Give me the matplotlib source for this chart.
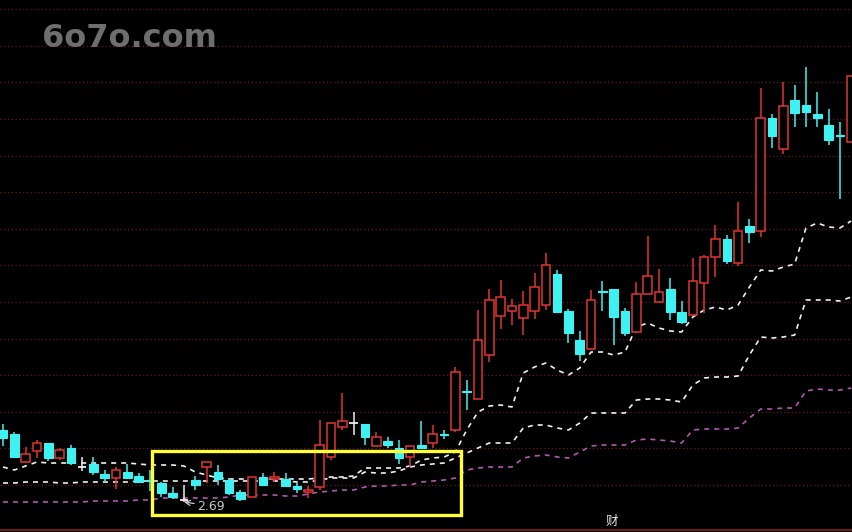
"""
Candlestick chart with three stepped dashed guide lines, dark trading-terminal style.
"""

import matplotlib
matplotlib.use("Agg")
import matplotlib.pyplot as plt
from matplotlib.patches import Rectangle
import numpy as np

# Daily prices (open, high, low, close), one entry per candle
opens = [3.41, 3.37, 3.09, 3.20, 3.28, 3.13, 3.23, 3.04, 3.07, 2.97,
         2.93, 2.99, 2.95, 2.91, 2.88, 2.78, 2.71, 2.91, 3.04, 2.99,
         2.91, 2.79, 2.74, 2.94, 2.92, 2.92, 2.85, 2.79, 2.84, 3.14,
         3.44, 3.48, 3.47, 3.25, 3.30, 3.23, 3.14, 3.26, 3.28, 3.37,
         3.41, 3.80, 3.72, 4.16, 4.55, 4.60, 4.53, 4.60, 4.66, 4.97,
         4.60, 4.31, 4.22, 4.80, 4.82, 4.60, 4.39, 4.77, 4.69, 4.82,
         4.59, 4.56, 4.88, 5.14, 5.32, 5.08, 5.45, 5.40, 6.53, 6.22,
         6.71, 6.66, 6.57, 6.46, 6.36, 6.29]
highs = [3.47, 3.39, 3.24, 3.31, 3.28, 3.23, 3.26, 3.14, 3.14, 3.01,
         3.04, 3.07, 2.98, 3.01, 2.89, 2.84, 2.86, 2.95, 3.09, 3.06,
         2.93, 2.81, 2.94, 2.98, 2.99, 2.98, 2.88, 2.85, 3.51, 3.48,
         3.78, 3.59, 3.47, 3.39, 3.34, 3.31, 3.25, 3.50, 3.46, 3.41,
         4.04, 3.91, 4.61, 4.82, 4.91, 4.72, 4.80, 4.98, 5.18, 5.01,
         4.62, 4.40, 4.81, 4.90, 4.82, 4.63, 4.89, 5.35, 5.02, 4.93,
         4.70, 5.13, 5.16, 5.46, 5.36, 5.69, 5.52, 6.83, 6.57, 6.89,
         6.86, 7.04, 6.79, 6.62, 6.49, 6.95]
lows = [3.25, 3.13, 3.08, 3.13, 3.10, 3.11, 3.06, 3.00, 2.96, 2.89,
        2.82, 2.93, 2.88, 2.80, 2.74, 2.72, 2.69, 2.81, 2.88, 2.86,
        2.76, 2.70, 2.74, 2.85, 2.89, 2.84, 2.78, 2.73, 2.81, 3.11,
        3.41, 3.36, 3.26, 3.25, 3.23, 3.07, 3.04, 3.23, 3.23, 3.32,
        3.39, 3.61, 3.72, 4.09, 4.42, 4.46, 4.36, 4.52, 4.61, 4.58,
        4.28, 4.10, 4.21, 4.60, 4.26, 4.35, 4.38, 4.77, 4.69, 4.51,
        4.47, 4.56, 4.58, 4.94, 5.07, 5.05, 5.28, 5.34, 6.23, 6.17,
        6.44, 6.44, 6.44, 6.26, 5.72, 6.29]
closes = [3.33, 3.14, 3.17, 3.28, 3.13, 3.21, 3.08, 3.04, 2.99, 2.93,
          3.01, 2.93, 2.89, 2.90, 2.78, 2.74, 2.71, 2.86, 3.09, 2.92,
          2.78, 2.72, 2.94, 2.86, 2.94, 2.85, 2.82, 2.81, 3.26, 3.48,
          3.50, 3.48, 3.34, 3.34, 3.26, 3.13, 3.25, 3.23, 3.37, 3.36,
          3.99, 3.79, 4.31, 4.71, 4.74, 4.65, 4.66, 4.84, 5.06, 4.59,
          4.38, 4.17, 4.71, 4.79, 4.54, 4.38, 4.77, 4.95, 4.79, 4.59,
          4.49, 4.90, 5.14, 5.32, 5.10, 5.40, 5.39, 6.53, 6.35, 6.65,
          6.58, 6.59, 6.53, 6.31, 6.35, 6.95]

# Stepped guide lines (upper white, lower white, purple)
line1 = [3.04, 3.01, 3.05, 3.09, 3.08, 3.08, 3.08, 3.08, 3.08, 3.08,
         3.08, 3.08, 3.07, 3.06, 3.06, 3.06, 3.05, 2.99, 2.96, 2.93,
         2.92, 2.92, 2.92, 2.92, 2.92, 2.92, 2.92, 2.92, 2.93, 2.94,
         2.94, 2.95, 3.03, 3.03, 3.03, 3.03, 3.05, 3.11, 3.13, 3.14,
         3.19, 3.41, 3.59, 3.65, 3.66, 3.64, 3.98, 4.04, 4.08, 4.01,
         3.96, 4.03, 4.19, 4.19, 4.16, 4.19, 4.44, 4.48, 4.43, 4.40,
         4.39, 4.54, 4.61, 4.64, 4.61, 4.66, 4.84, 5.01, 5.00, 5.04,
         5.07, 5.43, 5.48, 5.44, 5.43, 5.50]
line2 = [2.88, 2.88, 2.89, 2.89, 2.89, 2.88, 2.88, 2.89, 2.89, 2.89,
         2.89, 2.89, 2.90, 2.90, 2.90, 2.90, 2.90, 2.90, 2.90, 2.90,
         2.90, 2.90, 2.90, 2.90, 2.90, 2.90, 2.89, 2.89, 2.91, 2.93,
         2.93, 2.93, 2.99, 2.98, 2.98, 3.00, 3.04, 3.06, 3.07, 3.08,
         3.13, 3.18, 3.23, 3.28, 3.28, 3.28, 3.43, 3.46, 3.46, 3.43,
         3.41, 3.48, 3.58, 3.58, 3.58, 3.58, 3.71, 3.72, 3.72, 3.71,
         3.69, 3.86, 3.93, 3.94, 3.94, 3.95, 4.16, 4.34, 4.33, 4.34,
         4.36, 4.71, 4.71, 4.71, 4.70, 4.74]
line3 = [2.69, 2.69, 2.69, 2.69, 2.69, 2.69, 2.69, 2.69, 2.70, 2.70,
         2.70, 2.70, 2.71, 2.71, 2.73, 2.73, 2.73, 2.73, 2.73, 2.73,
         2.74, 2.76, 2.76, 2.76, 2.76, 2.75, 2.75, 2.77, 2.79, 2.80,
         2.81, 2.81, 2.84, 2.85, 2.85, 2.86, 2.86, 2.89, 2.90, 2.91,
         2.93, 3.01, 3.03, 3.04, 3.04, 3.04, 3.13, 3.15, 3.16, 3.14,
         3.13, 3.19, 3.25, 3.26, 3.26, 3.26, 3.31, 3.32, 3.31, 3.30,
         3.28, 3.41, 3.42, 3.42, 3.42, 3.43, 3.53, 3.62, 3.62, 3.63,
         3.63, 3.80, 3.82, 3.81, 3.81, 3.83]

lowLabel = "2.69"
lowIndex = 16

RED = "#e03535"
CYAN = "#3ff2f2"
WHITE = "#f0f0f0"


def drawCandles(ax):
    """
    Draws wicks and bodies; up candles are hollow red, down candles filled cyan
    """
    for i in range(len(opens)):
        o, h, l, c = opens[i], highs[i], lows[i], closes[i]
        if c > o:
            color = RED
        elif c < o:
            color = CYAN
        else:
            color = WHITE
        ax.vlines(i, l, h, color=color, linewidth=1.1, zorder=3)
        if c == o:
            ax.hlines(o, i - 0.38, i + 0.38, color=color, linewidth=1.3, zorder=4)
        elif c > o:
            ax.add_patch(Rectangle((i - 0.38, o), 0.76, c - o, facecolor="black",
                                   edgecolor=color, linewidth=1.1, zorder=4))
        else:
            ax.add_patch(Rectangle((i - 0.38, c), 0.76, o - c, facecolor=color,
                                   edgecolor=color, linewidth=0.8, zorder=4))


def main():
    fig = plt.figure(figsize=(8.52, 5.32), dpi=100)
    fig.patch.set_facecolor("black")
    ax = fig.add_axes([0, 0, 1, 1])
    ax.set_facecolor("black")
    ax.set_xlim(-0.265, 75.07)
    ax.set_ylim(2.39, 7.71)
    ax.axis("off")

    # Dotted horizontal grid
    for y in np.arange(2.86, 7.7, 0.366):
        ax.axhline(y, color="#661c1c", linestyle=(0, (1, 2)), linewidth=0.9, zorder=1)
    ax.axhline(2.41, color="#7a1c1c", linewidth=1.3, zorder=1)

    x = np.arange(len(opens))
    ax.plot(x, line1, color=WHITE, linestyle=(0, (3, 3)), linewidth=1.2, zorder=2)
    ax.plot(x, line2, color=WHITE, linestyle=(0, (3, 3)), linewidth=1.2, zorder=2)
    ax.plot(x, line3, color="#b05ab0", linestyle=(0, (3, 3)), linewidth=1.2, zorder=2)

    drawCandles(ax)

    # Highlight box around the bottoming area
    ax.add_patch(Rectangle((13.17, 2.56), 27.33, 0.64, fill=False,
                           edgecolor="#ffff33", linewidth=2.4, zorder=5))

    ax.annotate(lowLabel, xy=(lowIndex, lows[lowIndex]), xytext=(17.15, 2.65),
                color="#c8c8c8", fontsize=9, va="center", ha="left",
                arrowprops=dict(arrowstyle="->", color="#c8c8c8", linewidth=0.9,
                                shrinkA=0, shrinkB=0), zorder=6)

    fig.text(0.049, 0.912, "6o7o.com", color="#6e6e6e", fontsize=23,
             fontweight="bold", va="baseline", ha="left")
    fig.text(0.718, 0.019, "财", color="#e8e8e8", fontsize=9,
             family=["Noto Sans CJK SC", "DejaVu Sans"], ha="center", va="center")

    fig.savefig("out.png", dpi=100, facecolor="black")


main()
